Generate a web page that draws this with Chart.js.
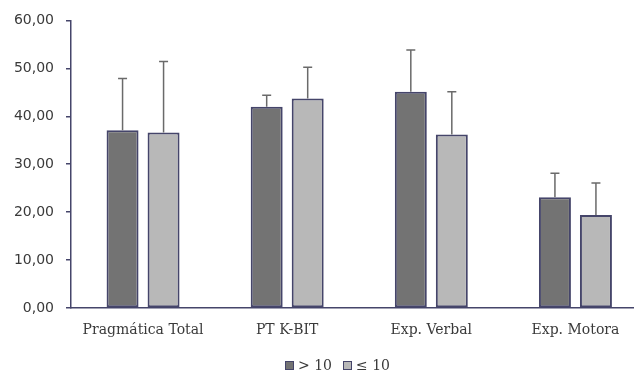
<!DOCTYPE html>
<html>
<head>
<meta charset="utf-8">
<script src="https://cdn.jsdelivr.net/npm/chart.js@4"></script>
<style>
  html, body { margin: 0; padding: 0; background: #fff; overflow: hidden; }
  #wrap { position: relative; width: 660px; height: 374px; }
  #legend { position: absolute; left: 285px; top: 357px; display: flex; align-items: center;
            font: 14px "DejaVu Serif", serif; color: #3a3a3a; }
  #legend .sw { display: inline-block; width: 7px; height: 7px; border: 1px solid #45456a; margin-right: 4px; }
  #legend .item { display: flex; align-items: center; margin-right: 11px; }
</style>
</head>
<body>
<div id="wrap">
  <canvas id="chart" width="660" height="374"></canvas>
  <div id="legend"></div>
</div>
<script>
// dados
const categorias = ['Pragmática Total', 'PT K-BIT', 'Exp. Verbal', 'Exp. Motora'];
const grupoMaior = [37.1, 42.0, 45.1, 23.1];   // > 10
const grupoMenor = [36.6, 43.7, 36.2, 19.4];   // ≤ 10
const dpMaior = [10.8, 2.4, 8.7, 5.0];
const dpMenor = [14.8, 6.5, 8.9, 6.7];
const nomes = ['> 10', '≤ 10'];
const cores = ['#737373', '#b8b8b8'];
const corBorda = '#45456a';

// barras de erro (só o lado superior)
const errorBars = {
    id: 'errorBars',
    afterDatasetsDraw(chart) {
        const ctx = chart.ctx;
        const y = chart.scales.y;
        ctx.save();
        ctx.strokeStyle = '#6a6a6a';
        ctx.lineWidth = 1.5;
        chart.data.datasets.forEach((ds, i) => {
            const meta = chart.getDatasetMeta(i);
            meta.data.forEach((bar, j) => {
                const top = y.getPixelForValue(ds.data[j] + ds.erros[j]);
                ctx.beginPath();
                ctx.moveTo(bar.x, bar.y);
                ctx.lineTo(bar.x, top);
                ctx.moveTo(bar.x - 4.5, top);
                ctx.lineTo(bar.x + 4.5, top);
                ctx.stroke();
            });
        });
        ctx.restore();
    }
};

const ctx = document.getElementById('chart').getContext('2d');
new Chart(ctx, {
    type: 'bar',
    data: {
        labels: categorias,
        datasets: [
            { label: nomes[0], data: grupoMaior, erros: dpMaior, backgroundColor: cores[0],
              borderColor: corBorda, borderWidth: 2, borderSkipped: false },
            { label: nomes[1], data: grupoMenor, erros: dpMenor, backgroundColor: cores[1],
              borderColor: corBorda, borderWidth: 2, borderSkipped: false }
        ]
    },
    options: {
        responsive: false,
        animation: false,
        categoryPercentage: 0.569,
        barPercentage: 0.78,
        layout: { padding: { top: 19, right: 12.5, left: 0, bottom: 0 } },
        plugins: { legend: { display: false }, tooltip: { enabled: false } },
        scales: {
            x: {
                afterFit: s => { s.height = 66; },
                grid: { display: false },
                border: { color: corBorda, width: 1.5 },
                ticks: { color: '#3a3a3a', font: { family: 'DejaVu Serif', size: 14 },
                         padding: 6, maxRotation: 0, autoSkip: false }
            },
            y: {
                min: 0, max: 60,
                afterFit: s => { s.width = 71; },
                grid: { drawOnChartArea: false, tickLength: 5, color: corBorda, lineWidth: 1.5 },
                border: { color: corBorda, width: 1.5 },
                ticks: { stepSize: 10, color: '#3a3a3a', font: { family: 'DejaVu Sans', size: 14 },
                         padding: 12, callback: v => v.toFixed(2).replace('.', ',') }
            }
        }
    },
    plugins: [errorBars]
});

// legenda
const leg = document.getElementById('legend');
nomes.forEach((n, i) => {
    const item = document.createElement('span');
    item.className = 'item';
    item.innerHTML = '<span class="sw" style="background:' + cores[i] + '"></span>' + n;
    leg.appendChild(item);
});
</script>
</body>
</html>
